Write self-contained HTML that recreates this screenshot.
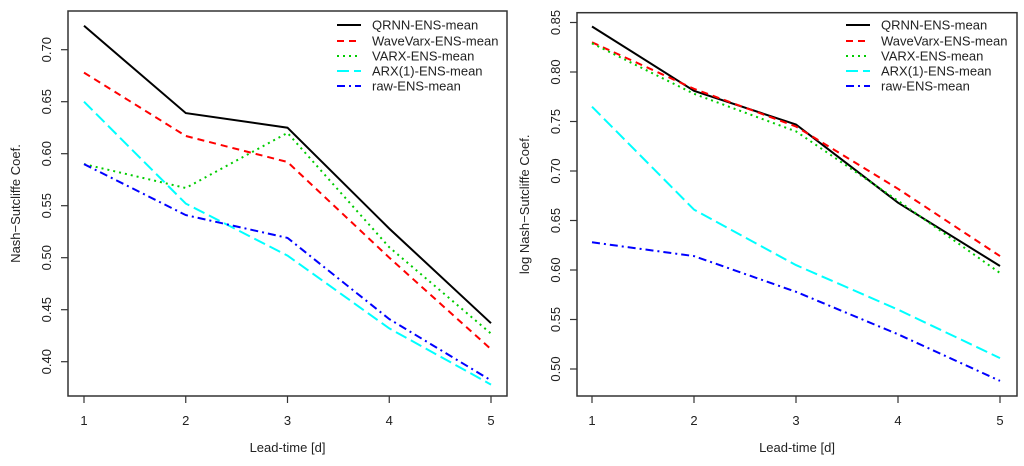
<!DOCTYPE html>
<html><head><meta charset="utf-8"><style>
html,body{margin:0;padding:0;background:#fff;}
svg{display:block;font-family:"Liberation Sans",Arial,sans-serif;}
</style></head><body>
<svg id="svg" width="1024" height="466" xmlns="http://www.w3.org/2000/svg"></svg>
<script>
const leadTimes = [1, 2, 3, 4, 5];
const seriesNames = ["QRNN-ENS-mean", "WaveVarx-ENS-mean", "VARX-ENS-mean", "ARX(1)-ENS-mean", "raw-ENS-mean"];
const leftQRNN = [0.723, 0.639, 0.625, 0.528, 0.437];
const leftWave = [0.678, 0.617, 0.592, 0.500, 0.412];
const leftVARX = [0.590, 0.567, 0.620, 0.510, 0.427];
const leftARX = [0.650, 0.552, 0.502, 0.432, 0.378];
const leftRaw = [0.590, 0.541, 0.519, 0.441, 0.382];
const rightQRNN = [0.846, 0.781, 0.747, 0.668, 0.604];
const rightWave = [0.830, 0.783, 0.745, 0.682, 0.614];
const rightVARX = [0.829, 0.778, 0.740, 0.670, 0.597];
const rightARX = [0.765, 0.661, 0.605, 0.560, 0.511];
const rightRaw = [0.628, 0.614, 0.578, 0.535, 0.488];
const leftTicks = ["0.40", "0.45", "0.50", "0.55", "0.60", "0.65", "0.70"];
const rightTicks = ["0.50", "0.55", "0.60", "0.65", "0.70", "0.75", "0.80", "0.85"];

const styles = [
  {c:"#000", d:"", w:2},
  {c:"#f00", d:"7,5", w:2},
  {c:"#0c0", d:"2,4", w:2},
  {c:"#0ff", d:"12,5", w:2},
  {c:"#00f", d:"8,4,2,4", w:2}
];
const NS = "http://www.w3.org/2000/svg";
const svg = document.getElementById("svg");
function mk(tag, attrs, parent, text){
  const e = document.createElementNS(NS, tag);
  for (const k in attrs) e.setAttribute(k, attrs[k]);
  if (text !== undefined) e.textContent = text;
  (parent || svg).appendChild(e);
  return e;
}
function panel(cfg){
  const g = mk("g", {});
  
  
  const x = v => cfg.x1 + (v - 1) / 4 * (cfg.x5 - cfg.x1);
  const y = v => cfg.yRef + (cfg.vRef - v) / 0.05 * cfg.step;
  const box = mk("rect", {x:cfg.bx0, y:cfg.by0, width:cfg.bx1-cfg.bx0, height:cfg.by1-cfg.by0, fill:"none", stroke:"#333", "stroke-width":1.5}, g);
  
  
  cfg.ticks.forEach(t => {
    const yy = y(parseFloat(t));
    mk("line", {x1:cfg.bx0-7, x2:cfg.bx0, y1:yy, y2:yy, stroke:"#333", "stroke-width":1.2}, g);
    const tx = mk("text", {x:0, y:0, "font-size":13, fill:"#222", "text-anchor":"middle", transform:`translate(${cfg.bx0-17},${yy}) rotate(-90)`}, g, t);
    
    
  });
  leadTimes.forEach(v => {
    const xx = x(v);
    mk("line", {x1:xx, x2:xx, y1:cfg.by1, y2:cfg.by1+7, stroke:"#333", "stroke-width":1.2}, g);
    const tx = mk("text", {x:xx, y:425, "font-size":13, fill:"#222", "text-anchor":"middle"}, g, String(v));
    
    
  });
  const xl = mk("text", {x:(cfg.bx0+cfg.bx1)/2, y:452, "font-size":13, fill:"#222", "text-anchor":"middle"}, g, "Lead-time [d]");
  
  
  const yl = mk("text", {x:0, y:0, "font-size":13, fill:"#222", "text-anchor":"middle", transform:`translate(${cfg.bx0-48},${(cfg.by0+cfg.by1)/2}) rotate(-90)`}, g, cfg.ylabel);
  
  
  cfg.series.forEach((s, i) => {
    const pts = s.map((v, j) => x(leadTimes[j]).toFixed(1) + "," + y(v).toFixed(1)).join(" ");
    const pl = mk("polyline", {points:pts, fill:"none", stroke:styles[i].c, "stroke-width":styles[i].w, "stroke-dasharray":styles[i].d}, g);
    
    
  });
  const lg = mk("g", {}, g);
  
  
  const rows = [25, 41, 56, 71, 86];
  seriesNames.forEach((n, i) => {
    const ln = mk("line", {x1:cfg.lx, x2:cfg.lx+24, y1:rows[i], y2:rows[i], stroke:styles[i].c, "stroke-width":2, "stroke-dasharray":styles[i].d}, lg);
    
    
    const tx = mk("text", {x:cfg.lx+35, y:rows[i]+4.5, "font-size":13, fill:"#222"}, lg, n);
    
    
  });
}
panel({name:"left-panel", bx0:68, bx1:507, by0:11, by1:396, x1:84, x5:491, yRef:361.7, vRef:0.40, step:52,
  ticks:leftTicks, ylabel:"Nash\u2212Sutcliffe Coef.", lx:337,
  series:[leftQRNN, leftWave, leftVARX, leftARX, leftRaw]});
panel({name:"right-panel", bx0:577, bx1:1017, by0:12.7, by1:396, x1:592, x5:1000, yRef:369, vRef:0.50, step:49.5,
  ticks:rightTicks, ylabel:"log Nash\u2212Sutcliffe Coef.", lx:846,
  series:[rightQRNN, rightWave, rightVARX, rightARX, rightRaw]});
</script>
</body></html>
